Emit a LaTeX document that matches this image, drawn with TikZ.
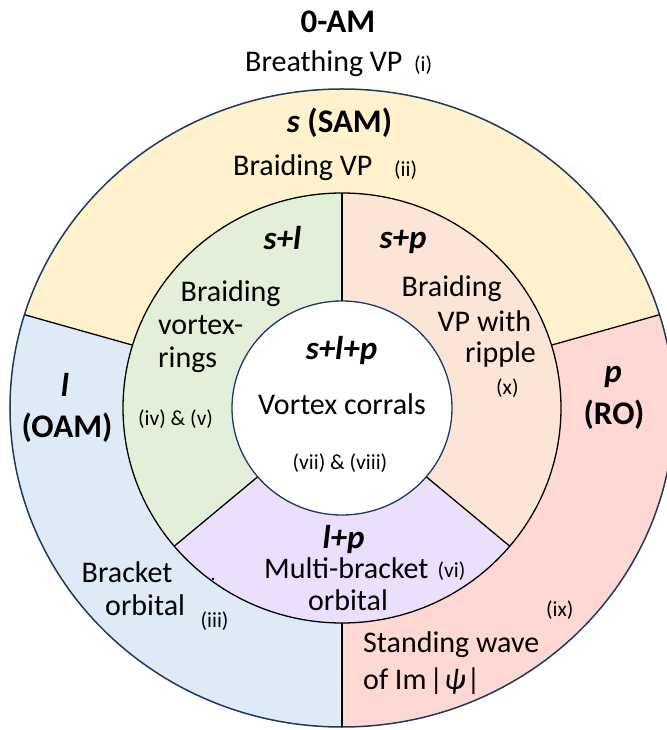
\documentclass[tikz,border=0pt]{standalone}
\usepackage{fontspec}
\setmainfont{Carlito}
\definecolor{cYel}{HTML}{FFF2CC}
\definecolor{cBlu}{HTML}{DEEBF7}
\definecolor{cRed}{HTML}{FFD8D3}
\definecolor{cGrn}{HTML}{E2F0D9}
\definecolor{cPch}{HTML}{FBE5D6}
\definecolor{cPur}{HTML}{ECDFFC}
\definecolor{cNavy}{HTML}{1F3864}
\newcommand\annsec[7]{%
  \fill[#1] (#2:#4 and #5) arc[start angle=#2, end angle=#3, x radius=#4pt, y radius=#5pt]
    -- (#3:#6 and #7) arc[start angle=#3, end angle=#2, x radius=#6pt, y radius=#7pt] -- cycle;}
\tikzset{
  txt/.style={font=\fontsize{30}{36}\selectfont, inner sep=0pt},
  bld/.style={font=\fontsize{33}{40}\selectfont\bfseries, inner sep=0pt},
  bit/.style={font=\fontsize{33}{40}\selectfont\bfseries\itshape, inner sep=0pt},
  sml/.style={font=\fontsize{21.5}{26}\selectfont, inner sep=0pt},
  divider/.style={black, line width=1.3pt}
}
\begin{document}
\begin{tikzpicture}[x=1pt,y=1pt]
\useasboundingbox (-342,-322) rectangle (324,408);
% outer ring sectors
\annsec{cYel}{17}{163}{332}{319}{219}{215}
\annsec{cBlu}{163}{270}{332}{319}{219}{215}
\annsec{cRed}{270}{377}{332}{319}{219}{215}
% inner ring sectors
\annsec{cGrn}{90}{220}{219}{215}{110}{107}
\annsec{cPur}{220}{320}{219}{215}{110}{107}
\annsec{cPch}{320}{450}{219}{215}{110}{107}
% dividers
\foreach \a in {17,163,270}
  \draw[divider] (\a:219 and 215) -- (\a:332 and 319);
\foreach \a in {90,220,320}
  \draw[divider] (\a:110 and 107) -- (\a:219 and 215);
% outlines
\draw[cNavy, line width=1.5pt] (0,0) ellipse[x radius=332pt, y radius=319pt];
\draw[black, line width=1.3pt] (0,0) ellipse[x radius=219pt, y radius=215pt];
\draw[cNavy, fill=white, line width=1.3pt] (0,0) ellipse[x radius=110pt, y radius=107pt];
\fill (-129,-171) circle[radius=1.4pt];
% texts
\node[bld, anchor=base] (zam) at (-4,375) {0-AM};
\node[txt, anchor=base west] (brvp) at (-97,336) {Breathing VP};
\node[sml, anchor=base west] (ri) at (72,336) {(i)};
\node[bld, anchor=base] (sam) at (-2.5,275) {\textit{s} (SAM)};
\node[txt, anchor=base west] (brvp2) at (-109,232) {Braiding VP};
\node[sml, anchor=base west] (rii) at (52,231) {(ii)};
\node[bit, anchor=base] (sl) at (-59.5,158) {s+l};
\node[bit, anchor=base] (sp) at (61,159) {s+p};
\node[txt, anchor=base west] (vr1) at (-161.5,106) {Braiding};
\node[txt, anchor=base west] (vr2) at (-184,73) {vortex-};
\node[txt, anchor=base west] (vr3) at (-184,40) {rings};
\node[sml, anchor=base west] (riv) at (-204,-18) {(iv) \& (v)};
\node[txt, anchor=base west] (rp1) at (59.5,111) {Braiding};
\node[txt, anchor=base west] (rp2) at (95.5,76) {VP with};
\node[txt, anchor=base west] (rp3) at (123,45) {ripple};
\node[sml, anchor=base west] (rx) at (154,13) {(x)};
\node[bit, anchor=base] (slp) at (-0.5,48) {s+l+p};
\node[txt, anchor=base] (vc) at (0,-7) {Vortex corrals};
\node[sml, anchor=base] (rvii) at (-2,-62) {(vii) \& (viii)};
\node[bit, anchor=base] (l) at (-277,11) {l};
\node[bld, anchor=base] (oam) at (-275,-30) {(OAM)};
\node[bit, anchor=base] (pp) at (271,25) {p};
\node[bld, anchor=base] (ro) at (272,-17) {(RO)};
\node[bit, anchor=base] (lp) at (1.5,-140) {l+p};
\node[txt, anchor=base west] (mb) at (-78,-170) {Multi-bracket};
\node[sml, anchor=base west] (rvi) at (95.5,-169) {(vi)};
\node[txt, anchor=base] (mbo) at (6,-202) {orbital};
\node[txt, anchor=base west] (bo1) at (-260.5,-174) {Bracket};
\node[txt, anchor=base west] (bo2) at (-237,-207) {orbital};
\node[sml, anchor=base west] (riii) at (-141.5,-219) {(iii)};
\node[sml, anchor=base west] (rix) at (204,-208) {(ix)};
\node[txt, anchor=base west] (sw1) at (21,-244) {Standing wave};
\node[txt, anchor=base west] (sw2) at (21,-281) {of Im\kern3pt|\kern1pt\textit{ψ}\kern1pt|};
\end{tikzpicture}
\end{document}
